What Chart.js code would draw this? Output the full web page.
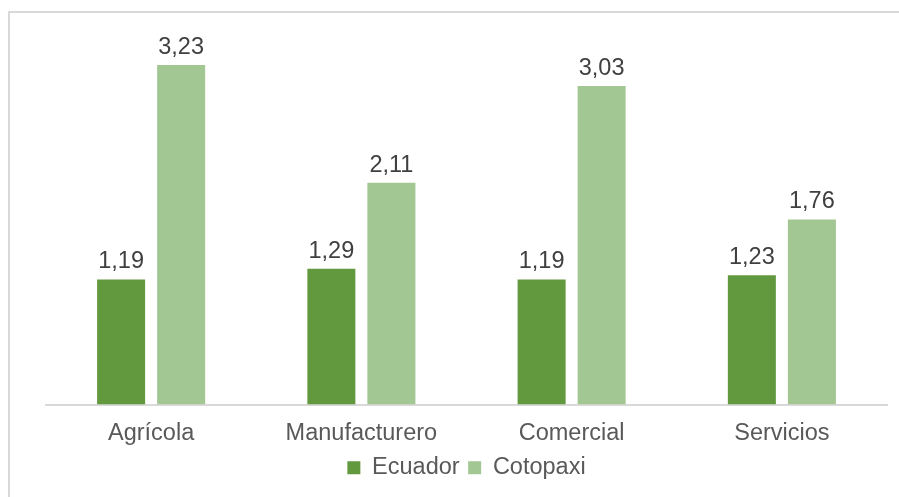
<!DOCTYPE html>
<html>
<head>
<meta charset="utf-8">
<script src="https://cdn.jsdelivr.net/npm/chart.js@4"></script>
<style>
  html, body { margin: 0; padding: 0; background: #fff; }
  #wrap { position: relative; width: 899px; height: 497px; overflow: hidden; }
  #marco { position: absolute; left: 8px; top: 11px; width: 1000px; height: 1000px;
           border-left: 2px solid #d9d9d9; border-top: 2px solid #d9d9d9; }
  #grafico { position: absolute; left: 0; top: 0; }
</style>
</head>
<body>
<div id="wrap">
  <div id="marco"></div>
  <canvas id="grafico" width="899" height="497"></canvas>
</div>
<script>
const sectores = ['Agrícola', 'Manufacturero', 'Comercial', 'Servicios'];
const ecuador = [1.19, 1.29, 1.19, 1.23];
const cotopaxi = [3.23, 2.11, 3.03, 1.76];

const fuente = '"Liberation Sans", Arial, sans-serif';

// etiquetas con el valor encima de cada barra (coma decimal)
const etiquetasValor = {
    id: 'etiquetasValor',
    afterDatasetsDraw(chart) {
        const ctx = chart.ctx;
        ctx.save();
        ctx.font = '23.5px ' + fuente;
        ctx.fillStyle = '#404040';
        ctx.textAlign = 'center';
        ctx.textBaseline = 'alphabetic';
        chart.data.datasets.forEach((ds, i) => {
            chart.getDatasetMeta(i).data.forEach((bar, j) => {
                ctx.fillText(ds.data[j].toFixed(2).replace('.', ','), bar.x, bar.y - 11);
            });
        });
        ctx.restore();
    }
};

new Chart(document.getElementById('grafico'), {
    type: 'bar',
    data: {
        labels: sectores,
        datasets: [{
            label: 'Ecuador',
            data: ecuador,
            backgroundColor: '#62993e',
            categoryPercentage: 0.571,
            barPercentage: 0.8
        }, {
            label: 'Cotopaxi',
            data: cotopaxi,
            backgroundColor: '#a3c793',
            categoryPercentage: 0.571,
            barPercentage: 0.8
        }]
    },
    options: {
        responsive: false,
        animation: false,
        layout: { padding: { left: 46, right: 12, top: 36.5, bottom: 7.5 } },
        scales: {
            x: {
                grid: { display: false, drawTicks: false },
                border: { color: '#d9d9d9', width: 2 },
                ticks: {
                    color: '#595959',
                    padding: 15,
                    font: { family: fuente, size: 23.5 }
                },
                // alto fijo del eje para acercar la leyenda
                afterFit(scale) { scale.height = 43; }
            },
            y: { display: false, min: 0, max: 3.5 }
        },
        plugins: {
            legend: {
                position: 'bottom',
                labels: {
                    color: '#595959',
                    boxWidth: 13,
                    boxHeight: 13,
                    padding: 8.5,
                    font: { family: fuente, size: 23.5 }
                }
            },
            tooltip: { enabled: false }
        }
    },
    plugins: [etiquetasValor]
});
</script>
</body>
</html>
